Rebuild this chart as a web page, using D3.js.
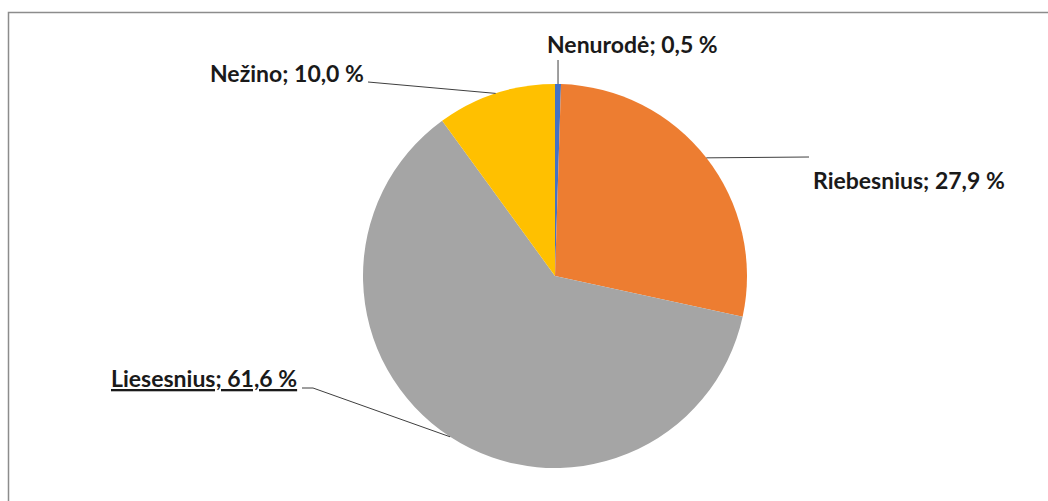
<!DOCTYPE html>
<html>
<head>
<meta charset="utf-8">
<script src="https://cdn.jsdelivr.net/npm/d3@7"></script>
<style>
  html, body { margin: 0; padding: 0; background: #fff; }
  svg { display: block; }
  .lbl { font-family: Lato, "Open Sans", sans-serif; font-weight: 700; font-size: 23px; fill: #1a1a1a; }
</style>
</head>
<body>
<svg id="chart" width="1048" height="501"></svg>
<script>
// Answers, in clockwise order from 12 o'clock
const categories = ["Nenurodė", "Riebesnius", "Liesesnius", "Nežino"];
const shares = [0.5, 27.9, 61.6, 10.0];
const colors = ["#4472C4", "#ED7D31", "#A5A5A5", "#FFC000"];

const W = 1048, H = 501;
const cx = 555, cy = 276, R = 192;

const svg = d3.select("#chart");

// chart area frame
svg.append("rect")
  .attr("x", 8.5).attr("y", 12.5)
  .attr("width", W + 20).attr("height", H + 20)
  .attr("fill", "none").attr("stroke", "#8c8c8c").attr("stroke-width", 1.5);

const data = categories.map((c, i) => ({ name: c, value: shares[i], color: colors[i] }));

const pie = d3.pie().value(d => d.value).sort(null);
const arcs = pie(data);
const arc = d3.arc().innerRadius(0).outerRadius(R);

const g = svg.append("g").attr("transform", `translate(${cx},${cy})`);

g.selectAll("path.slice")
  .data(arcs)
  .join("path")
  .attr("class", "slice")
  .attr("d", arc)
  .attr("fill", d => d.data.color);

const fmt = v => d3.format(".1f")(v).replace(".", ",") + " %";

// label placement: text anchor point and the elbow where the leader line meets the label
const labelLayout = {
  "Nenurodė":   { x: 547, y: 53,  line: [[0, 60]] },
  "Riebesnius": { x: 813, y: 189, line: [[809, 157]] },
  "Liesesnius": { x: 111, y: 387, line: [[313, 388], [302, 388]], underline: true },
  "Nežino":     { x: 210, y: 82,  line: [[368, 82]] }
};

const edge = a => {
  const mid = (a.startAngle + a.endAngle) / 2;
  return [cx + R * Math.sin(mid), cy - R * Math.cos(mid)];
};

arcs.forEach(a => {
  const L = labelLayout[a.data.name];
  const p0 = edge(a);
  let pts;
  if (a.data.name === "Nenurodė") {
    pts = [p0, [p0[0], L.line[0][1]]];
  } else {
    pts = [p0].concat(L.line);
  }
  svg.append("path")
    .attr("d", d3.line()(pts))
    .attr("fill", "none")
    .attr("stroke", "#3f3f3f")
    .attr("stroke-width", 1);

  svg.append("text")
    .attr("class", "lbl")
    .attr("x", L.x).attr("y", L.y)
    .style("text-decoration", L.underline ? "underline" : null)
    .text(`${a.data.name}; ${fmt(a.data.value)}`);
});
</script>
</body>
</html>
